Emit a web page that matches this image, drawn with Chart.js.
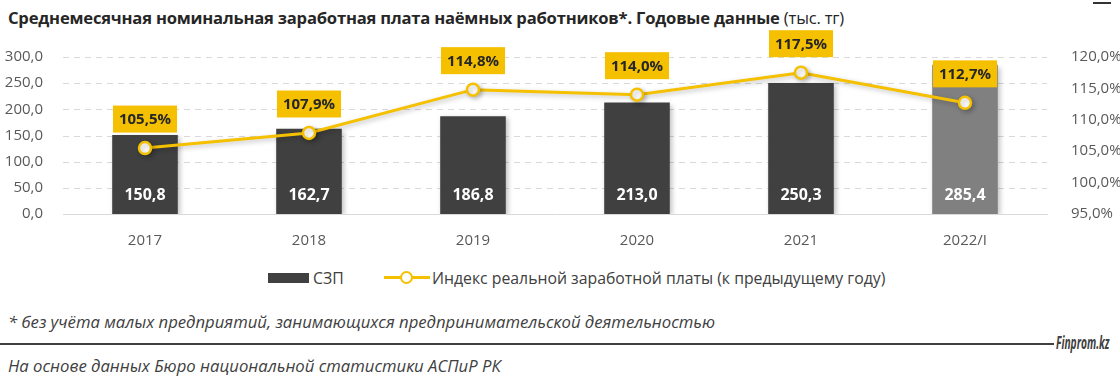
<!DOCTYPE html>
<html>
<head>
<meta charset="utf-8">
<script src="https://cdn.jsdelivr.net/npm/chart.js@4.4.0/dist/chart.umd.min.js"></script>
<style>
  body { margin: 0; width: 1120px; height: 384px; background: #fff; position: relative; overflow: hidden; font-family: "Open Sans", sans-serif; }
  #titre { position: absolute; left: 8px; top: 6px; font-size: 16.6px; font-weight: 700; color: #262626; white-space: nowrap; letter-spacing: -0.2px; }
  #titre span { font-weight: 400; }
  #coin { position: absolute; left: 1093px; top: 2px; width: 18px; height: 2px; background: #333; }
  #zone { position: absolute; left: 0; top: 30px; width: 1120px; height: 225px; }
  #legende { position: absolute; top: 267px; left: 0; width: 1120px; height: 22px; font-size: 15.8px; color: #404040; }
  .sw-bar { position: absolute; left: 268px; top: 6px; width: 41px; height: 10px; background: #404040; }
  .sw-line { position: absolute; left: 384px; top: 9px; width: 46px; height: 3px; background: #F5C000; }
  .sw-pt { position: absolute; left: 400px; top: 4px; width: 9px; height: 9px; border: 2.5px solid #F5C000; border-radius: 50%; background: #fff; }
  .lg-txt { position: absolute; top: 0; white-space: nowrap; }
  .note { position: absolute; left: 8px; font-style: italic; font-size: 16.7px; color: #404040; white-space: nowrap; }
  #trait { position: absolute; left: 0; top: 343px; width: 1054px; height: 2px; background: #404040; }
  #site { position: absolute; left: 1056px; top: 331px; font-style: italic; font-weight: 700; font-size: 17px; color: #404040; transform: scaleX(0.6); transform-origin: left top; white-space: nowrap; }
</style>
</head>
<body>
<div id="titre">Среднемесячная номинальная заработная плата наёмных работников*. Годовые данные <span>(тыс. тг)</span></div>
<div id="coin"></div>
<div id="zone"><canvas id="graphe"></canvas></div>
<div id="legende">
  <div class="sw-bar"></div><div class="lg-txt" style="left:313px">СЗП</div>
  <div class="sw-line"></div><div class="sw-pt"></div>
  <div class="lg-txt" style="left:432px">Индекс реальной заработной платы (к предыдущему году)</div>
</div>
<div class="note" style="top:310px">* без учёта малых предприятий, занимающихся предпринимательской деятельностью</div>
<div id="trait"></div>
<div id="site">Finprom.kz</div>
<div class="note" style="top:354px">На основе данных Бюро национальной статистики АСПиР РК</div>

<script>
const annees = ["2017", "2018", "2019", "2020", "2021", "2022/I"];
const salaires = [150.8, 162.7, 186.8, 213.0, 250.3, 285.4];
const indices = [105.5, 107.9, 114.8, 114.0, 117.5, 112.7];
const couleursBarres = ["#404040", "#404040", "#404040", "#404040", "#404040", "#808080"];

const JAUNE = "#F5C000";

function virgule(v, d) {
  return v.toFixed(d).replace(".", ",");
}

// grille pointillee, tracee depuis les ticks de l'axe gauche
const grille = {
  id: "grille",
  beforeDatasetsDraw(chart) {
    const ctx = chart.ctx;
    const yG = chart.scales.y;
    const zone = chart.chartArea;
    ctx.save();
    ctx.strokeStyle = "#d9d9d9";
    ctx.lineWidth = 1;
    ctx.setLineDash([6, 5]);
    yG.ticks.forEach(t => {
      if (t.value === 0) return;
      const y = Math.round(yG.getPixelForValue(t.value)) + 0.5;
      ctx.beginPath();
      ctx.moveTo(zone.left, y);
      ctx.lineTo(zone.right, y);
      ctx.stroke();
    });
    ctx.restore();
  }
};

// etiquettes des barres et des points
const etiquettes = {
  id: "etiquettes",
  afterDatasetsDraw(chart) {
    const ctx = chart.ctx;
    const yG = chart.scales.y;
    ctx.save();
    // valeurs des barres (dataset 1)
    chart.getDatasetMeta(1).data.forEach((barre, i) => {
      ctx.font = "bold 16px 'Open Sans'";
      ctx.fillStyle = "#fff";
      ctx.textAlign = "center";
      ctx.textBaseline = "middle";
      ctx.fillText(virgule(salaires[i], 1), barre.x, yG.bottom - 19);
    });
    // pourcentages (dataset 0)
    chart.getDatasetMeta(0).data.forEach((pt, i) => {
      const txt = virgule(indices[i], 1) + "%";
      ctx.font = "bold 15px 'Open Sans'";
      const w = ctx.measureText(txt).width + 12;
      const h = 27;
      const cy = pt.y - 29;
      ctx.fillStyle = JAUNE;
      ctx.fillRect(pt.x - w / 2, cy - h / 2, w, h);
      ctx.fillStyle = "#262626";
      ctx.textAlign = "center";
      ctx.textBaseline = "middle";
      ctx.fillText(txt, pt.x, cy + 1);
    });
    ctx.restore();
  }
};

// ombre legere sous les barres et la ligne
const ombre = {
  id: "ombre",
  beforeDatasetDraw(chart) {
    const ctx = chart.ctx;
    ctx.save();
    ctx.shadowColor = "rgba(0,0,0,0.25)";
    ctx.shadowBlur = 5;
    ctx.shadowOffsetX = 2;
    ctx.shadowOffsetY = 2;
  },
  afterDatasetDraw(chart) {
    chart.ctx.restore();
  }
};

const policeAxe = { family: "Open Sans", size: 15 };

new Chart(document.getElementById("graphe").getContext("2d"), {
  data: {
    labels: annees,
    datasets: [
      {
        type: "line",
        label: "Индекс реальной заработной платы (к предыдущему году)",
        data: indices,
        yAxisID: "y2",
        borderColor: JAUNE,
        borderWidth: 3,
        pointRadius: 6,
        pointBorderWidth: 2.5,
        pointBackgroundColor: "#fff",
        pointBorderColor: JAUNE,
        tension: 0,
        order: 0
      },
      {
        type: "bar",
        label: "СЗП",
        data: salaires,
        yAxisID: "y",
        backgroundColor: couleursBarres,
        barPercentage: 0.4,
        categoryPercentage: 1,
        order: 1
      }
    ]
  },
  options: {
    responsive: true,
    maintainAspectRatio: false,
    animation: false,
    layout: { padding: { top: 27, left: 0, right: 0, bottom: 0 } },
    plugins: {
      legend: { display: false },
      tooltip: { enabled: false }
    },
    scales: {
      x: {
        grid: { display: false },
        border: { color: "#d9d9d9", width: 1 },
        ticks: { color: "#595959", font: policeAxe, padding: 10 },
        afterFit(s) { s.height = 41; }
      },
      y: {
        position: "left",
        min: 0, max: 300,
        ticks: { stepSize: 50, color: "#595959", font: policeAxe, padding: 12,
          callback: v => virgule(v, 1) },
        grid: { display: false },
        border: { display: false },
        afterFit(s) { s.width = 63; }
      },
      y2: {
        position: "right",
        min: 95, max: 120,
        ticks: { stepSize: 5, color: "#595959", font: policeAxe, padding: 16,
          callback: v => virgule(v, 1) + "%" },
        grid: { display: false },
        border: { display: false },
        afterFit(s) { s.width = 73; }
      }
    }
  },
  plugins: [grille, ombre, etiquettes]
});
</script>
</body>
</html>
